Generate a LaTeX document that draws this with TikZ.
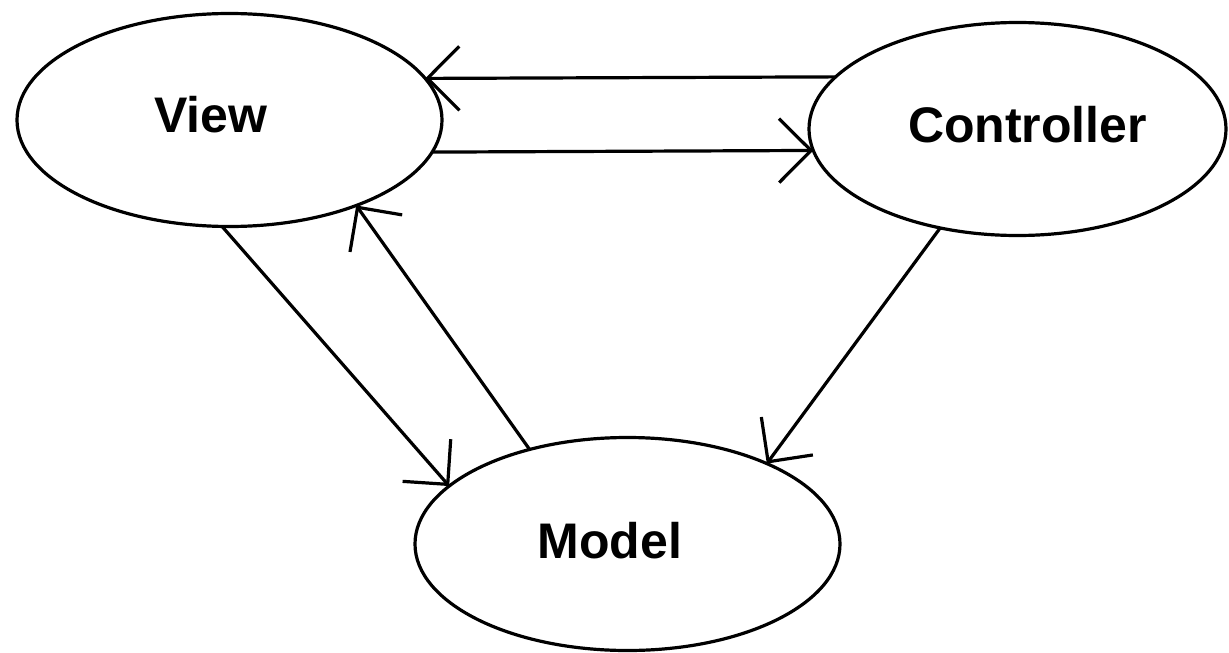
\documentclass[tikz,border=0pt]{standalone}
\usepackage{fontspec}
\setmainfont{Liberation Sans}
\usetikzlibrary{shapes.geometric,arrows.meta}
\begin{document}
\begin{tikzpicture}[x=1pt,y=-1pt,
  oval/.style={draw=black, line width=3.2pt, ellipse, inner sep=0pt, outer sep=0pt, minimum height=213pt},
  lbl/.style={inner sep=0pt, font=\fontsize{50}{50}\selectfont\bfseries},
  conn/.style={draw=black, line width=3.2pt, -{Straight Barb[length=32pt,width=64pt]}}]
\useasboundingbox (0,0) rectangle (1229,653);
\fill[white] (0,0) rectangle (1229,653);
\node[oval, minimum width=425pt] (view) at (229.5,120) {};
\node[oval, minimum width=417pt] (ctrl) at (1017.5,129) {};
\node[oval, minimum width=425pt] (model) at (627.5,544) {};
\node[lbl] (viewlabel) at (211,115) {View};
\node[lbl] (ctrllabel) at (1027.5,125) {Controller};
\node[lbl] (modellabel) at (610,540.5) {Model};
\draw[conn] (ctrl.164.2) -- (view.12.3);
\draw[conn] (view.-9.2) -- (ctrl.186.7);
\draw[conn] (view.266) -- (model.162.2);
\draw[conn] (model.136) -- (view.-34.5);
\draw[conn] (ctrl.-128.9) -- (model.30.9);
\end{tikzpicture}
\end{document}
